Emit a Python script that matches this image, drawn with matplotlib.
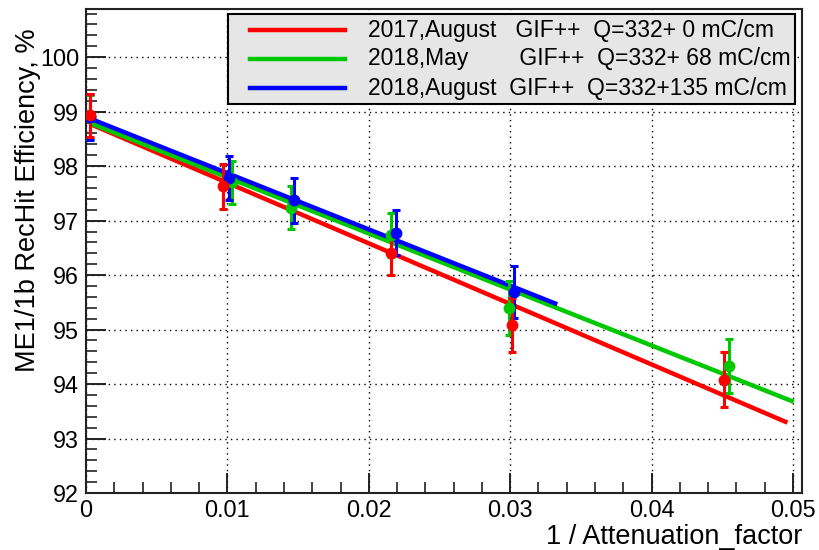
import numpy as np
import matplotlib
matplotlib.use("Agg")
import matplotlib.pyplot as plt
from matplotlib import font_manager
from matplotlib.lines import Line2D
from matplotlib.patches import Rectangle
from matplotlib.ticker import MultipleLocator, FixedLocator, FixedFormatter

# ME1/1b RecHit efficiency vs inverse attenuation factor, three GIF++ campaigns
x_2017aug = [0.0003, 0.0097, 0.0216, 0.0301, 0.0451]
eff_2017aug = [98.93, 97.63, 96.40, 95.08, 94.08]
err_2017aug = [0.40, 0.41, 0.40, 0.50, 0.50]

x_2018may = [0.0003, 0.0103, 0.0145, 0.0216, 0.0299, 0.0455]
eff_2018may = [98.90, 97.70, 97.24, 96.74, 95.40, 94.33]
err_2018may = [0.40, 0.40, 0.40, 0.40, 0.50, 0.50]

x_2018aug = [0.0003, 0.0101, 0.0147, 0.0219, 0.0303]
eff_2018aug = [98.90, 97.78, 97.37, 96.78, 95.69]
err_2018aug = [0.42, 0.40, 0.41, 0.41, 0.48]

series_labels = [
    "2017,August   GIF++  Q=332+ 0 mC/cm",
    "2018,May        GIF++  Q=332+ 68 mC/cm",
    "2018,August  GIF++  Q=332+135 mC/cm",
]
colors = ["#ff0000", "#00c800", "#0000ff"]

xtick_values = [0.0, 0.01, 0.02, 0.03, 0.04, 0.05]
xtick_labels = ["0", "0.01", "0.02", "0.03", "0.04", "0.05"]
ytick_values = [92, 93, 94, 95, 96, 97, 98, 99, 100]
ytick_labels = ["92", "93", "94", "95", "96", "97", "98", "99", "100"]

installed = {f.name for f in font_manager.fontManager.ttflist}
family = "Liberation Sans" if "Liberation Sans" in installed else "DejaVu Sans"
plt.rcParams["font.family"] = [family, "DejaVu Sans"]

W, H = 819, 550
fig = plt.figure(figsize=(W / 100, H / 100), dpi=100)
ax_l, ax_r, ax_t, ax_b = 86, 802, 8.7, 493
ax = fig.add_axes([ax_l / W, (H - ax_b) / H, (ax_r - ax_l) / W, (ax_b - ax_t) / H])

ax.set_xlim(0, 0.05064)
ax.set_ylim(92, 100.89)

# dotted grid at the major ticks
ax.grid(True, which="major", color="black", linestyle=(0, (1, 3)), linewidth=1.0)
ax.set_axisbelow(True)

series = [
    (x_2017aug, eff_2017aug, err_2017aug),
    (x_2018may, eff_2018may, err_2018may),
    (x_2018aug, eff_2018aug, err_2018aug),
]

# linear fits drawn first, points on top
for (xs, ys, es), c in zip(series, colors):
    xs, ys, es = np.asarray(xs), np.asarray(ys), np.asarray(es)
    slope, icpt = np.polyfit(xs, ys, 1, w=1.0 / es)
    xf = np.linspace(xs[0], xs[-1] * 1.1, 50)
    ax.plot(xf, icpt + slope * xf, color=c, linewidth=3.2, solid_capstyle="butt", zorder=3)

for i in [1, 2, 0]:
    xs, ys, es = series[i]
    ax.errorbar(xs, ys, yerr=es, fmt="o", color=colors[i], markersize=7.5,
                elinewidth=2.2, capsize=3.0, capthick=2.2, zorder=4)

ax.xaxis.set_major_locator(FixedLocator(xtick_values))
ax.xaxis.set_major_formatter(FixedFormatter(xtick_labels))
ax.xaxis.set_minor_locator(MultipleLocator(0.002))
ax.yaxis.set_major_locator(FixedLocator(ytick_values))
ax.yaxis.set_major_formatter(FixedFormatter(ytick_labels))
ax.yaxis.set_minor_locator(MultipleLocator(0.2))

ax.tick_params(which="both", direction="in", top=False, right=False, color="#222222")
ax.tick_params(which="major", length=14.5, width=1.4, labelsize=16.8)
ax.tick_params(which="minor", length=8, width=1.2)
ax.tick_params(axis="x", which="major", pad=4)
ax.tick_params(axis="y", which="major", pad=5)

for s in ax.spines.values():
    s.set_linewidth(1.5)
    s.set_color("#222222")

ax.set_xlabel("1 / Attenuation_factor", fontsize=19.5, ha="right", va="top")
ax.xaxis.set_label_coords(1.0, -0.064)
ax.set_ylabel("ME1/1b RecHit Efficiency, %", fontsize=19.5, ha="right", va="bottom")
ax.yaxis.set_label_coords(-0.063, 0.96)

# legend box
lx0, lx1, ly0, ly1 = 228, 795, 14, 104
fig.patches.append(Rectangle((lx0 / W, (H - ly1) / H), (lx1 - lx0) / W, (ly1 - ly0) / H,
                             transform=fig.transFigure, facecolor="#e6e6e6",
                             edgecolor="black", linewidth=1.5, zorder=10))
row_y = [30, 59, 88]
for lab, c, ry in zip(series_labels, colors, row_y):
    fig.lines.append(Line2D([250 / W, 345 / W], [(H - ry) / H] * 2, transform=fig.transFigure,
                            color=c, linewidth=3.2, zorder=11))
    fig.text(368 / W, (H - ry) / H, lab, fontsize=16.5, va="center", ha="left", zorder=12)

fig.savefig("out.png", dpi=100)
